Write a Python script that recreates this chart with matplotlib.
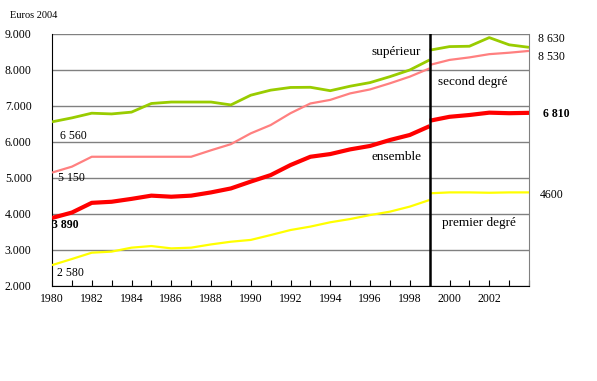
import matplotlib
matplotlib.use("Agg")
import matplotlib.pyplot as plt
from matplotlib.ticker import FuncFormatter, MultipleLocator

plt.rcParams['font.family'] = ['Liberation Serif', 'DejaVu Serif']

years_old = [1980, 1981, 1982, 1983, 1984, 1985, 1986, 1987, 1988, 1989,
             1990, 1991, 1992, 1993, 1994, 1995, 1996, 1997, 1998, 1999]
years_new = [1999, 2000, 2001, 2002, 2003, 2004]

superieur_old = [6560, 6670, 6800, 6780, 6830, 7070, 7110, 7110, 7110, 7030,
                 7300, 7440, 7515, 7520, 7425, 7550, 7650, 7815, 8000, 8280]
superieur_new = [8550, 8650, 8660, 8900, 8700, 8630]

second_old = [5150, 5315, 5590, 5590, 5590, 5590, 5590, 5590, 5770, 5940,
              6240, 6470, 6800, 7070, 7170, 7350, 7460, 7630, 7815, 8045]
second_new = [8140, 8280, 8350, 8440, 8480, 8530]

ensemble_old = [3890, 4040, 4310, 4340, 4420, 4510, 4480, 4510, 4600, 4710,
                4900, 5080, 5360, 5590, 5665, 5795, 5890, 6055, 6195, 6440]
ensemble_new = [6590, 6700, 6750, 6815, 6800, 6810]

premier_old = [2580, 2750, 2925, 2955, 3065, 3110, 3045, 3065, 3155, 3230,
               3280, 3415, 3555, 3650, 3770, 3860, 3970, 4065, 4205, 4390]
premier_new = [4575, 4600, 4600, 4590, 4600, 4600]

year_ticks = list(range(1980, 2004, 2))
break_year = 1999

fig = plt.figure(figsize=(5.97, 3.81), dpi=100)
ax = fig.add_axes([52/597, 1 - 286/381, (529-52)/597, (286-34)/381])

series = [
    (superieur_old, superieur_new, '#99cc00', 2.0),
    (second_old, second_new, '#ff8080', 1.6),
    (ensemble_old, ensemble_new, '#ff0000', 3.0),
    (premier_old, premier_new, '#ffff00', 1.6),
]
for old, new, col, lw in series:
    ax.plot(years_old, old, color=col, lw=lw, zorder=3, solid_capstyle='butt')
    ax.plot(years_new, new, color=col, lw=lw, zorder=3, solid_capstyle='butt')

ax.axvline(break_year, color='black', lw=1.8, zorder=4)

ax.set_xlim(1980, 2004)
ax.set_ylim(2000, 9000)
ax.yaxis.set_major_locator(MultipleLocator(1000))
ax.yaxis.set_major_formatter(FuncFormatter(lambda v, p: f"{int(v):,}".replace(',', '.')))
ax.set_xticks(year_ticks)
ax.set_xticks(range(1980, 2005), minor=True)
ax.tick_params(axis='x', which='both', direction='in', length=4, width=0.8,
               labelsize=8.5, pad=5)
ax.tick_params(axis='y', which='both', length=0, labelsize=8.5, pad=34)
for lab in ax.get_yticklabels():
    lab.set_horizontalalignment('left')

ax.grid(axis='y', color='#808080', lw=1.0, zorder=1)
ax.spines['top'].set_visible(False)
ax.spines['right'].set_color('#808080')
ax.spines['left'].set_color('black')
ax.spines['bottom'].set_color('black')


def px(x, y, s, fs=8.5, **kw):
    fig.text(x/597, 1 - y/381, s, fontsize=fs, va='center', ha='left', **kw)


px(10, 16, 'Euros 2004', fs=7.5)
px(60, 136, '6 560')
px(58, 178, '5 150')
px(52, 225, '3 890', fontweight='bold')
px(57, 273, '2 580')
px(372, 52, 'supérieur', fs=9.5)
px(438, 82, 'second degré', fs=9.5)
px(372, 157, 'ensemble', fs=9.5)
px(442, 223, 'premier degré', fs=9.5)
px(538, 39, '8 630')
px(538, 57, '8 530')
px(543, 114, '6 810', fontweight='bold')
px(540, 195, '4600')

fig.savefig('out.png', dpi=100)
